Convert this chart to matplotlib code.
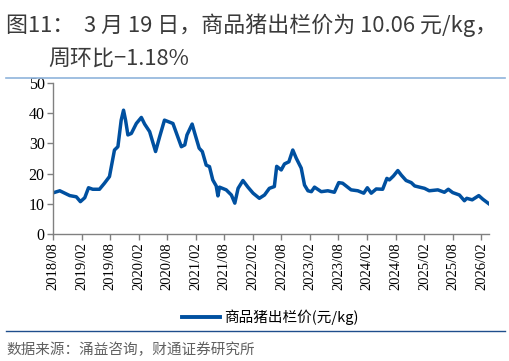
import numpy as np
import pandas as pd
import matplotlib
matplotlib.use('Agg')
import matplotlib.pyplot as plt
import matplotlib.dates as mdates
from matplotlib.lines import Line2D

plt.rcParams['font.family'] = ['Noto Sans CJK SC', 'DejaVu Sans']

# weekly pig price (yuan/kg)
dates = ['2018-08-01', '2018-09-13', '2018-11-16', '2018-12-28', '2019-01-23', '2019-02-20',
         '2019-03-16', '2019-04-12', '2019-05-25', '2019-06-26', '2019-07-28', '2019-08-29',
         '2019-09-20', '2019-10-11', '2019-10-26', '2019-11-08', '2019-11-23', '2019-12-15',
         '2020-01-16', '2020-02-17', '2020-03-09', '2020-04-10', '2020-05-18', '2020-06-13',
         '2020-07-14', '2020-09-06', '2020-10-30', '2020-11-21', '2020-12-05', '2021-01-07',
         '2021-01-24', '2021-02-21', '2021-03-13', '2021-04-07', '2021-04-28', '2021-05-19',
         '2021-06-10', '2021-06-21', '2021-07-01', '2021-08-13', '2021-09-15', '2021-10-07',
         '2021-10-28', '2021-11-28', '2021-12-30', '2022-02-01', '2022-03-13', '2022-04-15',
         '2022-05-16', '2022-06-17', '2022-07-02', '2022-07-31', '2022-08-21', '2022-09-18',
         '2022-10-13', '2022-11-04', '2022-12-06', '2022-12-27', '2023-01-18', '2023-02-09',
         '2023-03-01', '2023-04-13', '2023-05-25', '2023-07-06', '2023-08-03', '2023-08-28',
         '2023-10-21', '2023-12-03', '2024-01-10', '2024-02-02', '2024-02-27', '2024-03-30',
         '2024-05-10', '2024-06-06', '2024-06-22', '2024-07-18', '2024-08-15', '2024-09-06',
         '2024-10-07', '2024-11-09', '2024-12-01', '2025-01-01', '2025-02-02', '2025-03-04',
         '2025-04-28', '2025-06-09', '2025-07-04', '2025-08-01', '2025-09-13', '2025-10-15',
         '2025-10-30', '2025-12-04', '2026-01-15', '2026-02-10', '2026-03-19']
prices = [13.6, 14.3, 12.7, 12.3, 10.7, 12.0,
          15.3, 14.8, 14.8, 16.8, 19.0, 27.8,
          28.9, 37.7, 41.0, 37.7, 32.8, 33.3,
          36.6, 38.6, 36.4, 33.9, 27.3, 32.2,
          37.7, 36.6, 28.9, 29.5, 32.8, 36.4,
          33.3, 28.4, 27.3, 22.8, 22.3, 17.9,
          15.9, 12.6, 15.5, 14.6, 12.9, 10.2,
          15.1, 17.7, 15.5, 13.5, 11.8, 12.9,
          15.1, 15.7, 22.4, 21.2, 23.2, 23.9,
          27.8, 25.1, 21.8, 16.2, 14.3, 14.0,
          15.5, 14.0, 14.3, 13.8, 17.0, 16.8,
          14.6, 14.3, 13.5, 15.3, 13.5, 14.9,
          14.8, 18.4, 17.9, 19.2, 21.0, 19.5,
          17.7, 17.0, 15.9, 15.5, 15.1, 14.3,
          14.6, 13.8, 14.8, 13.7, 12.9, 11.0,
          11.8, 11.3, 12.7, 11.5, 10.06]
tick_dates = pd.date_range('2018-08-01', '2026-02-01', freq='6MS')
series_name = '商品猪出栏价(元/kg)'

blue = '#0050a0'
grey = '#808080'

fig = plt.figure(figsize=(5.1, 3.61), dpi=100)
ax = fig.add_axes([0.104, 0.352, 0.855, 0.418])

x = pd.to_datetime(dates)
ax.plot(x, prices, color=blue, lw=2.5, solid_joinstyle='round')

ax.set_xlim(pd.Timestamp('2018-08-01'), pd.Timestamp('2026-03-22'))
ax.set_ylim(0, 50)
ax.set_yticks([0, 10, 20, 30, 40, 50])
ax.set_xticks(tick_dates)
ax.xaxis.set_major_formatter(mdates.DateFormatter('%Y/%m'))

serif = ['Liberation Serif', 'DejaVu Serif']
for lab in ax.get_xticklabels():
    lab.set_family(serif)
    lab.set_fontsize(10.5)
    lab.set_rotation(90)
for lab in ax.get_yticklabels():
    lab.set_family(serif)
    lab.set_fontsize(11.5)

for s in ['top', 'right']:
    ax.spines[s].set_visible(False)
for s in ['left', 'bottom']:
    ax.spines[s].set_color(grey)
    ax.spines[s].set_linewidth(1.0)
ax.tick_params(axis='both', direction='out', length=4, color=grey, width=1.0, pad=2)

# title
fig.text(0.012, 0.930, '图11：  3 月 19 日，商品猪出栏价为 10.06 元/kg，',
         fontsize=15.8, color='#3a3a3a', va='center', ha='left')
fig.text(0.094, 0.838, '周环比−1.18%', fontsize=15.8, color='#3a3a3a', va='center', ha='left')
fig.add_artist(Line2D([0.012, 0.99], [0.784, 0.784], color='#8fb4dc', lw=1.2))

# legend
handle = Line2D([], [], color=blue, lw=2.8)
fig.legend([handle], [series_name], loc='center', bbox_to_anchor=(0.53, 0.122),
           frameon=False, fontsize=10.5, handlelength=2.6, handletextpad=0.3)

# source
fig.add_artist(Line2D([0.012, 0.99], [0.083, 0.083], color='#1f4e8c', lw=1.0))
fig.text(0.012, 0.030, '数据来源：涌益咨询，财通证券研究所', fontsize=10.5, color='#606060',
         va='center', ha='left')

fig.savefig('out.png', dpi=100)
